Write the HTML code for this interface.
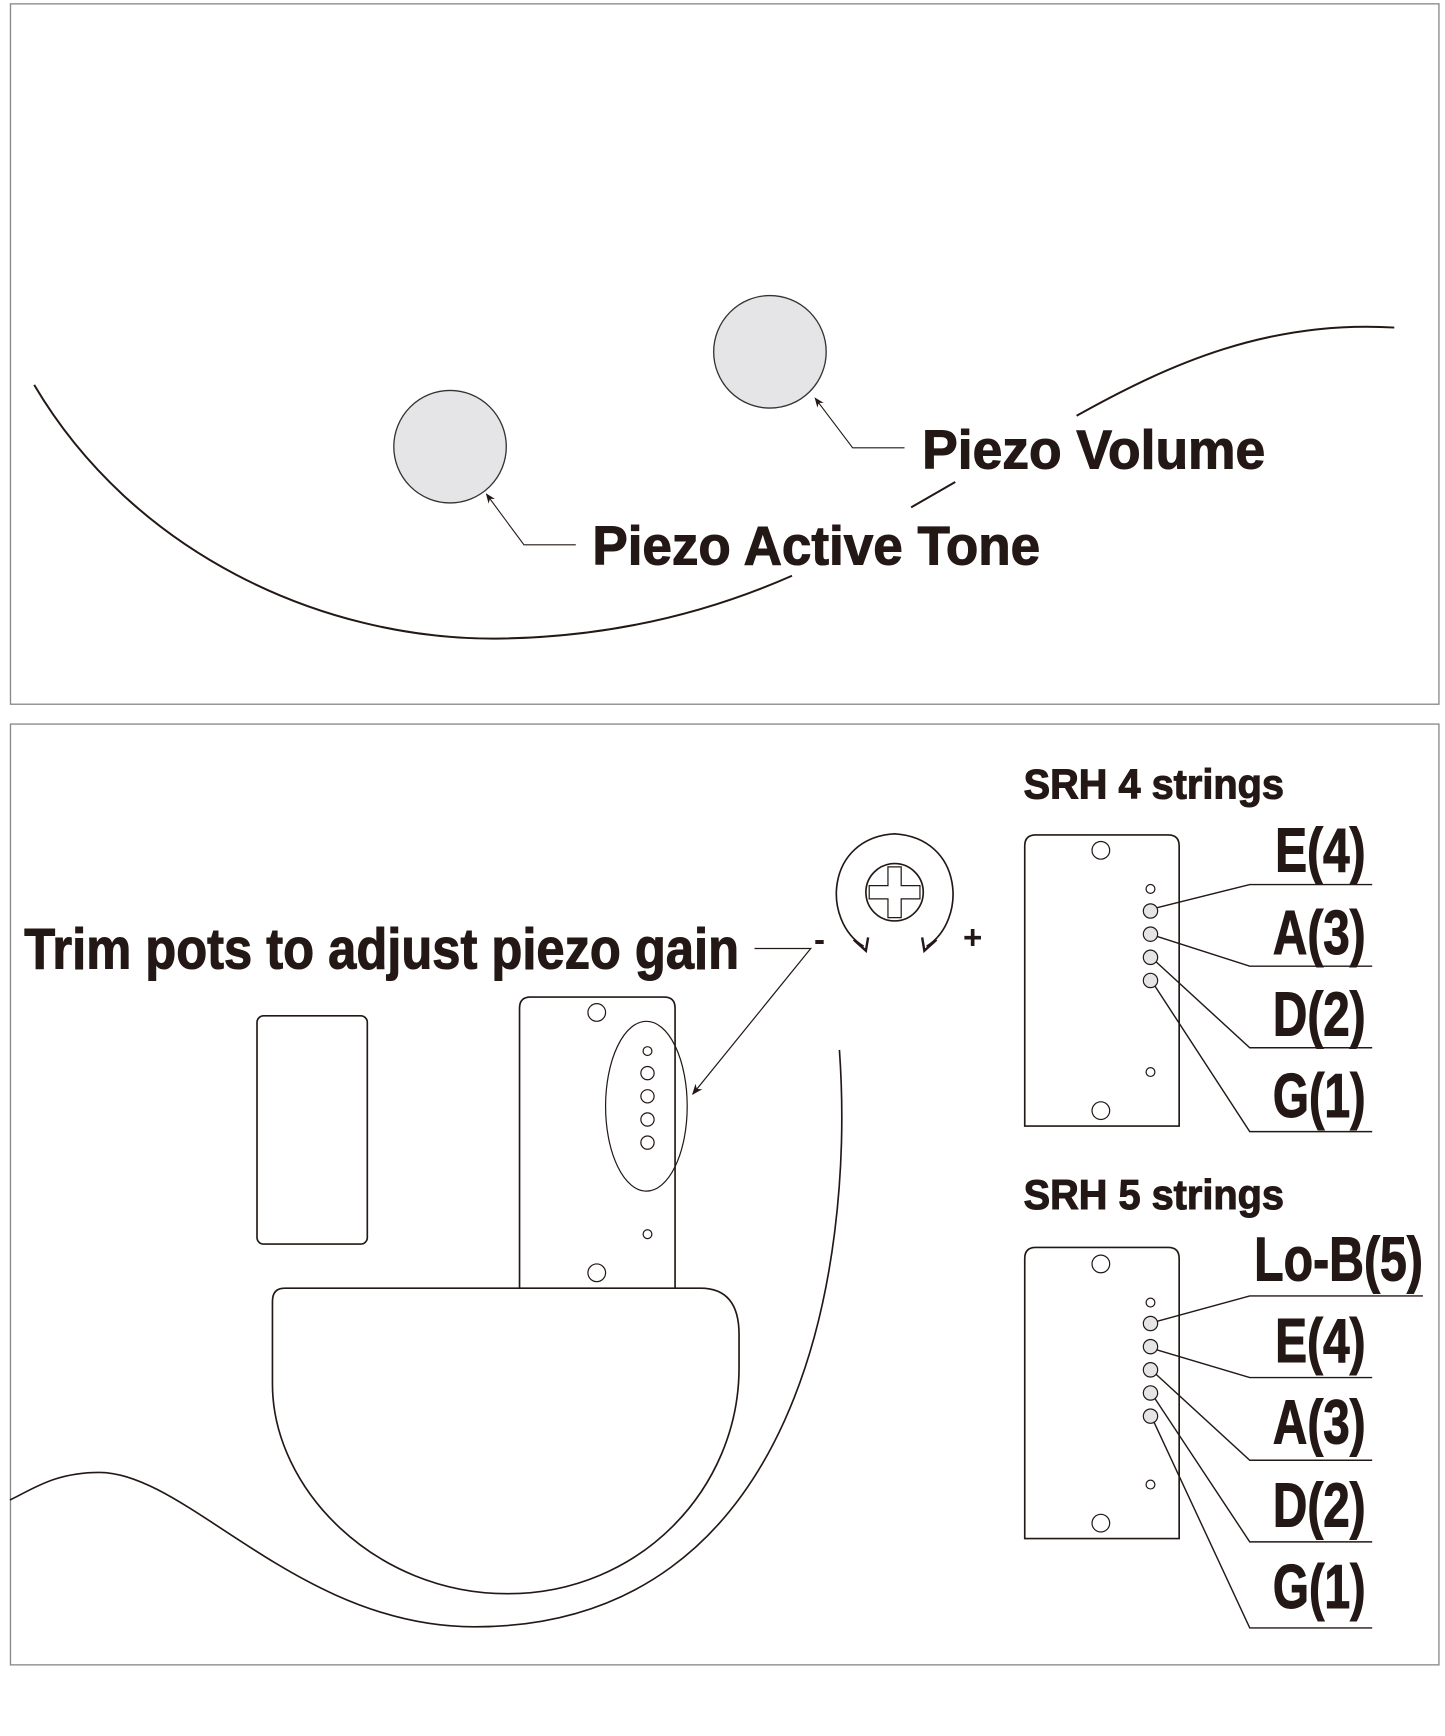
<!DOCTYPE html>
<html><head><meta charset="utf-8"><style>html,body{margin:0;padding:0;background:#fff}svg{display:block}</style></head>
<body>
<svg width="1445" height="1736" viewBox="0 0 1310 1574" preserveAspectRatio="none" xmlns="http://www.w3.org/2000/svg" font-family="Liberation Sans, sans-serif" font-weight="bold">
<defs>
<marker id="ah" viewBox="0 0 10 10" refX="9" refY="5" markerWidth="9" markerHeight="9" orient="auto-start-reverse"><path d="M0,1 L10,5 L0,9 L3,5 Z" fill="#231815"/></marker>
</defs>
<g fill="none" stroke="#888" stroke-width="1.2">
<rect x="9.5" y="3.5" width="1295" height="635"/>
<rect x="9.5" y="656.5" width="1295" height="853"/>
</g>
<!-- top panel -->
<g fill="none" stroke="#231815" stroke-width="1.8">
<path d="M31,349 C120,500 290,580 450,579 C560,578 650,552 718,522"/>
<path d="M826,460 L866,437"/>
<path d="M976,377 C1060,330 1150,290 1264,297"/>
</g>
<circle cx="408" cy="405" r="51" fill="#e5e5e7" stroke="#333" stroke-width="1.2"/>
<circle cx="698" cy="319" r="51" fill="#e5e5e7" stroke="#333" stroke-width="1.2"/>
<g fill="none" stroke="#231815" stroke-width="1">
<path d="M522,494 L475,494 L441,448" marker-end="url(#ah)"/>
<path d="M820,406 L773,406 L739,361" marker-end="url(#ah)"/>
</g>
<g fill="#231815" stroke="#231815" stroke-width="1">
<text x="537" y="512" font-size="50" textLength="406" lengthAdjust="spacingAndGlyphs">Piezo Active Tone</text>
<text x="836" y="425" font-size="50" textLength="311" lengthAdjust="spacingAndGlyphs">Piezo Volume</text>
</g>
<!-- bottom panel -->
<g fill="#231815" stroke="#231815" stroke-width="1">
<text x="22" y="878" font-size="52" textLength="648" lengthAdjust="spacingAndGlyphs">Trim pots to adjust piezo gain</text>
<text x="738" y="862" font-size="30" stroke-width="0">-</text>
<text x="873" y="860" font-size="30" stroke-width="0">+</text>
<text x="928" y="724" font-size="38" textLength="236" lengthAdjust="spacingAndGlyphs">SRH 4 strings</text>
<text x="928" y="1096" font-size="38" textLength="236" lengthAdjust="spacingAndGlyphs">SRH 5 strings</text>
<g font-size="56" text-anchor="end">
<text x="1238" y="790" textLength="82" lengthAdjust="spacingAndGlyphs">E(4)</text>
<text x="1238" y="865" textLength="84" lengthAdjust="spacingAndGlyphs">A(3)</text>
<text x="1238" y="939" textLength="84" lengthAdjust="spacingAndGlyphs">D(2)</text>
<text x="1238" y="1013" textLength="84" lengthAdjust="spacingAndGlyphs">G(1)</text>
<text x="1290" y="1161" textLength="153" lengthAdjust="spacingAndGlyphs">Lo-B(5)</text>
<text x="1238" y="1235" textLength="82" lengthAdjust="spacingAndGlyphs">E(4)</text>
<text x="1238" y="1309" textLength="84" lengthAdjust="spacingAndGlyphs">A(3)</text>
<text x="1238" y="1384" textLength="84" lengthAdjust="spacingAndGlyphs">D(2)</text>
<text x="1238" y="1458" textLength="84" lengthAdjust="spacingAndGlyphs">G(1)</text>
</g>
</g>
<g fill="none" stroke="#231815" stroke-width="1.5">
<path d="M761,952 C775,1150 725,1475 430,1475 C270,1475 170,1335 90,1335 C50,1335 30,1350 9,1360"/>
<rect x="233" y="921" width="100" height="207" rx="6"/>
<path d="M471,1168 L471,914 Q471,904 481,904 L602,904 Q612,904 612,914 L612,1168"/>
<path d="M258,1168 L635,1168 Q670,1168 670,1210 L670,1240 C670,1350 580,1445 460,1445 C340,1445 247,1350 247,1255 L247,1180 Q247,1168 258,1168 Z"/>
</g>
<g fill="none" stroke="#231815" stroke-width="1.1">
<circle cx="541" cy="918" r="8"/><circle cx="541" cy="1154" r="8"/>
<circle cx="587" cy="953" r="4"/>
<circle cx="587" cy="973" r="6"/><circle cx="587" cy="994" r="6"/><circle cx="587" cy="1015" r="6"/><circle cx="587" cy="1036" r="6"/>
<circle cx="587" cy="1119" r="4"/>
<ellipse cx="586" cy="1003" rx="37" ry="77"/>
<path d="M684,860 L735,860 L628,992" marker-end="url(#ah)"/>
<!-- rotation arrows -->
<path d="M783,858 C745,835 748,760 811,756 C874,760 877,835 840,858" stroke-width="1.5"/>
<path d="M774,852 L785,862 L787,850" stroke-width="2.2"/>
<path d="M849,852 L838,862 L836,850" stroke-width="2.2"/>
<circle cx="811" cy="809" r="26" stroke-width="1.5"/>
<path d="M805,786 L817,786 L817,803 L834,803 L834,815 L817,815 L817,832 L805,832 L805,815 L788,815 L788,803 L805,803 Z"/>
</g>
<!-- plates -->
<g fill="none" stroke="#231815" stroke-width="1.5">
<path d="M929,1021 L929,767 Q929,757 939,757 L1059,757 Q1069,757 1069,767 L1069,1021 Z"/>
<path d="M929,1395 L929,1141 Q929,1131 939,1131 L1059,1131 Q1069,1131 1069,1141 L1069,1395 Z"/>
</g>
<g stroke="#231815" stroke-width="1.1" fill="none">
<circle cx="998" cy="771" r="8"/><circle cx="998" cy="1007" r="8"/>
<circle cx="1043" cy="806" r="4"/><circle cx="1043" cy="972" r="4"/>
<circle cx="998" cy="1146" r="8"/><circle cx="998" cy="1381" r="8"/>
<circle cx="1043" cy="1181" r="4"/><circle cx="1043" cy="1346" r="4"/>
</g>
<g stroke="#231815" stroke-width="1.1" fill="#e5e5e7">
<circle cx="1043" cy="826" r="6.5"/><circle cx="1043" cy="847" r="6.5"/><circle cx="1043" cy="868" r="6.5"/><circle cx="1043" cy="889" r="6.5"/>
<circle cx="1043" cy="1200" r="6.5"/><circle cx="1043" cy="1221" r="6.5"/><circle cx="1043" cy="1242" r="6.5"/><circle cx="1043" cy="1263" r="6.5"/><circle cx="1043" cy="1284" r="6.5"/>
</g>
<g stroke="#231815" stroke-width="1.3" fill="none">
<path d="M1049,823 L1133,802 L1244,802"/>
<path d="M1049,849 L1133,876 L1244,876"/>
<path d="M1048,872 L1133,950 L1244,950"/>
<path d="M1047,894 L1133,1026 L1244,1026"/>
<path d="M1049,1198 L1133,1175 L1290,1175"/>
<path d="M1049,1224 L1133,1249 L1244,1249"/>
<path d="M1048,1246 L1133,1324 L1244,1324"/>
<path d="M1047,1268 L1133,1398 L1244,1398"/>
<path d="M1046,1289 L1133,1476 L1244,1476"/>
</g>
</svg>
</body></html>
